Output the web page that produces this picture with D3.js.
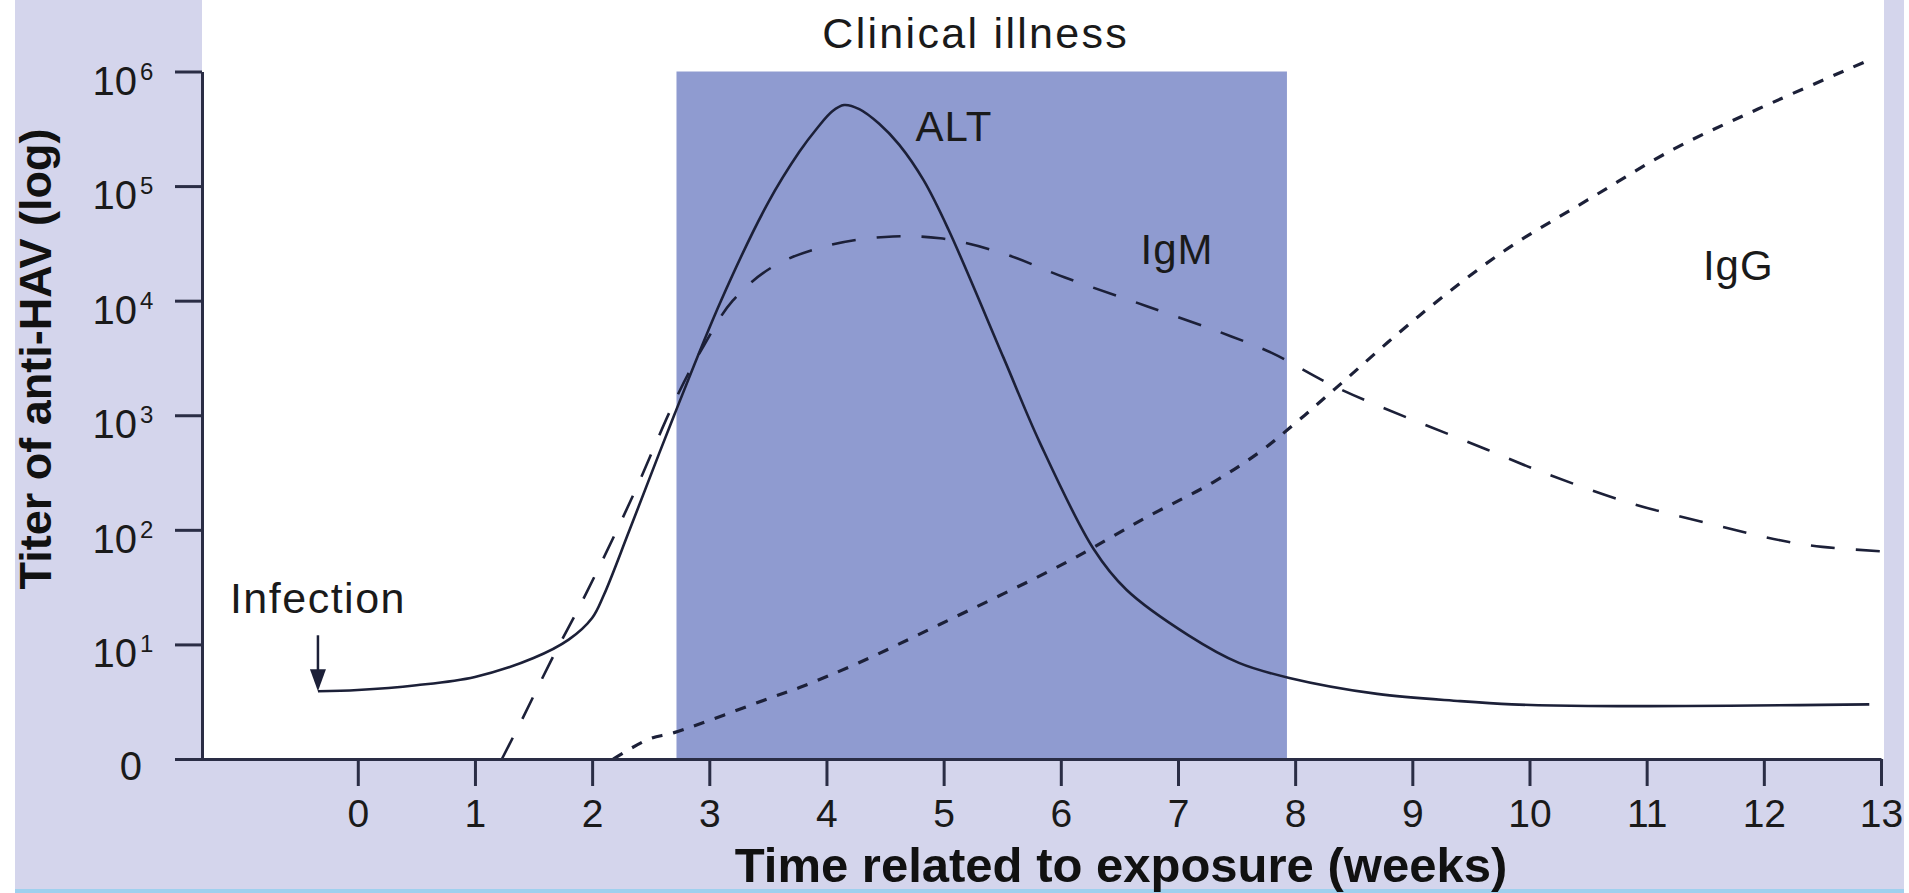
<!DOCTYPE html>
<html>
<head>
<meta charset="utf-8">
<script src="https://cdn.jsdelivr.net/npm/d3@7"></script>
<style>
	html, body { margin: 0; padding: 0; background: #fff; }
	svg { display: block; font-family: "Liberation Sans", Arial, Helvetica, sans-serif; }
</style>
</head>
<body>
<svg id="fig-hav"></svg>
<script>

// ============================================================================== //
// DATA ========================================================================= //
// ============================================================================== //

var weekTicks = d3.range(0, 14),
	titerTicks = [1, 1e1, 1e2, 1e3, 1e4, 1e5, 1e6];

// ALT (solid)
var altWeeks = [-0.34, 0.0, 0.5, 1.0, 1.5, 1.8, 2.0, 2.1, 2.32, 2.7, 3.1, 3.5, 3.77, 3.92, 4.05, 4.15, 4.28, 4.45, 4.62, 4.83, 5.04, 5.51, 5.82, 6.28, 6.56, 7.09, 7.52, 7.95, 8.7, 9.41, 9.85, 10.5, 12.9],
	altTiter = [3.9, 4.0, 4.4, 5.2, 7.6, 11, 17, 27, 100, 1000, 10000, 71000, 200000, 320000, 450000, 510000, 470000, 350000, 230000, 112000, 42000, 3200, 580, 68, 30, 12, 6.9, 5.1, 3.7, 3.2, 3.0, 2.9, 3.0];

// IgM anti-HAV (long dashes)
var igmWeeks = [1.23, 1.41, 1.64, 1.95, 2.35, 2.7, 2.95, 3.2, 3.55, 4.0, 4.5, 4.97, 5.5, 6.03, 6.74, 7.45, 7.8, 8.38, 9.64, 10.14, 10.87, 11.59, 12.14, 12.5, 13.0],
	igmTiter = [1, 2.3, 6.9, 28, 200, 1300, 4000, 10000, 20000, 30000, 36000, 35000, 26000, 16000, 8900, 4900, 3500, 1700, 500, 310, 170, 110, 81, 71, 65];

// IgG anti-HAV (short dashes)
var iggWeeks = [2.18, 2.49, 2.7, 3.55, 3.77, 4.26, 4.97, 6.03, 6.74, 7.3, 7.7, 8.0, 8.34, 9.06, 9.78, 10.5, 11.23, 11.95, 12.93],
	iggTiter = [1, 1.5, 1.7, 3.5, 4.2, 6.8, 15, 51, 130, 260, 480, 850, 1700, 7400, 27000, 76000, 210000, 470000, 1300000];

var clinicalWeeks = [2.72, 7.93],
	infectionWeek = -0.34;

var curveNames = ["ALT", "IgM", "IgG"],
	curveLabelWeeks = [4.76, 6.68, 11.48],
	curveLabelTiters = [245000, 21000, 15000];

// ============================================================================== //
// SETUP ======================================================================== //
// ============================================================================== //

var width = 1909,
	height = 893,
	lavender = "#d4d5ec",
	boxCol = "#8f9bd0",
	ink = "#1c2038";

var svg = d3.select("#fig-hav")
	.attr("width", width)
	.attr("height", height);

var xScale = d3.scaleLinear()
	.domain([-1.56, 13])
	.range([175, 1881]);

var yScale = d3.scaleLog()
	.domain([1, 1e6])
	.range([759, 71.5]);

// ============================================================================== //
// DRAW ========================================================================= //
// ============================================================================== //

// frame
svg.append("rect").attr("x", 0).attr("y", 0).attr("width", width).attr("height", height).attr("fill", "#fff");
svg.append("rect").attr("x", 15).attr("y", 0).attr("width", 202 - 15).attr("height", 889).attr("fill", lavender);
svg.append("rect").attr("x", 15).attr("y", 759).attr("width", 1904 - 15).attr("height", 889 - 759).attr("fill", lavender);
svg.append("rect").attr("x", 1884).attr("y", 0).attr("width", 1904 - 1884).attr("height", 889).attr("fill", lavender);
svg.append("rect").attr("x", 15).attr("y", 889).attr("width", 1904 - 15).attr("height", 4).attr("fill", "#9fd0ee");

// clinical illness box
svg.append("rect")
	.attr("x", xScale(clinicalWeeks[0]))
	.attr("y", yScale(1e6))
	.attr("width", xScale(clinicalWeeks[1]) - xScale(clinicalWeeks[0]))
	.attr("height", yScale(1) - yScale(1e6))
	.attr("fill", boxCol);

svg.append("text")
	.attr("x", (xScale(clinicalWeeks[0]) + xScale(clinicalWeeks[1])) / 2 - 6)
	.attr("y", 48)
	.attr("text-anchor", "middle")
	.attr("font-size", 43)
	.attr("letter-spacing", 2.3)
	.attr("fill", "#1a1a1a")
	.text("Clinical illness");

// curves
var line = d3.line()
	.x(d => xScale(d[0]))
	.y(d => yScale(d[1]))
	.curve(d3.curveCatmullRom.alpha(0.5));

var series = [
	{name: "ALT", pts: d3.zip(altWeeks, altTiter), dash: null, sw: 2.6},
	{name: "IgM", pts: d3.zip(igmWeeks, igmTiter), dash: "24 21", sw: 2.6},
	{name: "IgG", pts: d3.zip(iggWeeks, iggTiter), dash: "11 11", sw: 3.2}
];

svg.append("g")
	.selectAll("path")
	.data(series)
	.enter()
	.append("path")
	.attr("d", d => line(d.pts))
	.attr("fill", "none")
	.attr("stroke", ink)
	.attr("stroke-width", d => d.sw)
	.attr("stroke-dasharray", d => d.dash);

// axes
var xAxis = d3.axisBottom(xScale)
	.tickValues(weekTicks)
	.tickSize(27)
	.tickSizeOuter(0)
	.tickPadding(13)
	.tickFormat(d3.format("d"));

var gx = svg.append("g")
	.attr("transform", "translate(0," + yScale(1) + ")")
	.attr("color", "#2a2d45")
	.call(xAxis);
gx.select(".domain").attr("stroke-width", 3);
gx.selectAll(".tick line").attr("stroke-width", 3);
gx.selectAll(".tick text")
	.attr("font-size", 39)
	.attr("font-family", "Liberation Sans, Arial, sans-serif")
	.attr("fill", "#1a1a1a");

var yAxis = d3.axisLeft(yScale)
	.tickValues(titerTicks)
	.tickSize(27)
	.tickSizeOuter(0)
	.tickFormat("");

var gy = svg.append("g")
	.attr("transform", "translate(202,0)")
	.attr("color", "#2a2d45")
	.call(yAxis);
gy.select(".domain").attr("stroke-width", 3);
gy.selectAll(".tick line").attr("stroke-width", 3);

// y tick labels: 0, 10^1 ... 10^6
var yLab = svg.append("g")
	.attr("fill", "#1a1a1a");
yLab.selectAll("text.base")
	.data(titerTicks)
	.enter()
	.append("text")
	.attr("class", "base")
	.attr("x", d => d == 1 ? 142 : 137)
	.attr("y", d => yScale(d) + (d == 1 ? 21 : 23))
	.attr("text-anchor", "end")
	.attr("font-size", 40)
	.text(d => d == 1 ? "0" : "10");
yLab.selectAll("text.sup")
	.data(titerTicks.filter(d => d > 1))
	.enter()
	.append("text")
	.attr("class", "sup")
	.attr("x", 140)
	.attr("y", d => yScale(d) + 8)
	.attr("font-size", 24)
	.text(d => Math.round(Math.log10(d)));

// axis titles
svg.append("text")
	.attr("transform", "translate(51," + 359 + ") rotate(-90)")
	.attr("text-anchor", "middle")
	.attr("font-size", 45)
	.attr("font-weight", "bold")
	.attr("fill", "#111")
	.text("Titer of anti-HAV (log)");

svg.append("text")
	.attr("x", 1121)
	.attr("y", 882)
	.attr("text-anchor", "middle")
	.attr("font-size", 49)
	.attr("font-weight", "bold")
	.attr("fill", "#111")
	.text("Time related to exposure (weeks)");

// curve labels
svg.append("g")
	.selectAll("text")
	.data(curveNames)
	.enter()
	.append("text")
	.attr("x", (d, i) => xScale(curveLabelWeeks[i]))
	.attr("y", (d, i) => yScale(curveLabelTiters[i]))
	.attr("font-size", 42)
	.attr("letter-spacing", 1)
	.attr("fill", "#1a1a1a")
	.text(d => d);

// infection arrow
var ax = xScale(infectionWeek),
	aTip = yScale(altTiter[0]);

svg.append("line")
	.attr("x1", ax).attr("x2", ax)
	.attr("y1", aTip - 56).attr("y2", aTip - 18)
	.attr("stroke", ink)
	.attr("stroke-width", 2.5);
svg.append("path")
	.attr("d", `M ${ax - 8} ${aTip - 22} L ${ax + 8} ${aTip - 22} L ${ax} ${aTip} Z`)
	.attr("fill", ink);

svg.append("text")
	.attr("x", ax)
	.attr("y", aTip - 78)
	.attr("text-anchor", "middle")
	.attr("font-size", 43)
	.attr("letter-spacing", 1.5)
	.attr("fill", "#1a1a1a")
	.text("Infection");

// white right edge
svg.append("rect").attr("x", 1904).attr("y", 0).attr("width", 5).attr("height", height).attr("fill", "#fff");

</script>
</body>
</html>
